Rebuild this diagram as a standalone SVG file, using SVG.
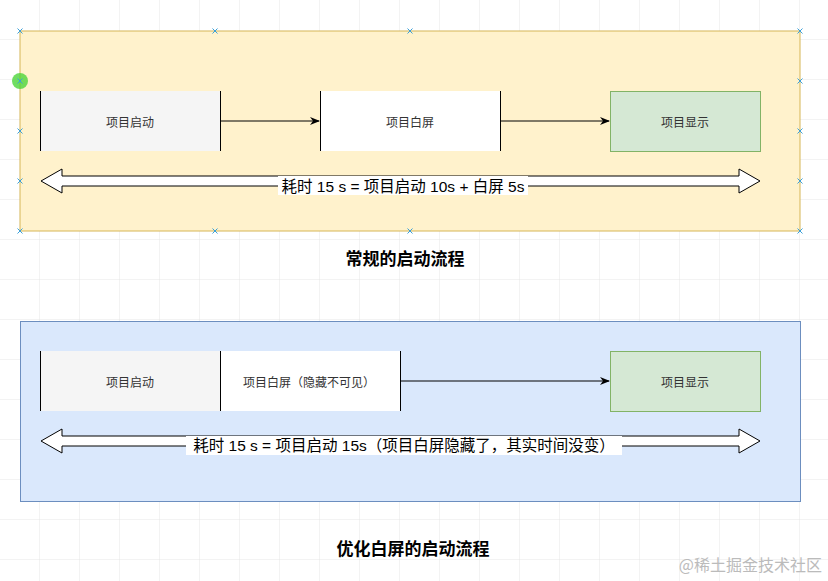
<svg xmlns="http://www.w3.org/2000/svg" width="828" height="581" viewBox="0 0 828 581">
<defs>
<pattern id="grid" width="40" height="40" patternUnits="userSpaceOnUse"><path d="M40 0V40M0 40H40" fill="none" stroke="#e6e6e6" stroke-width="1"/></pattern>
<marker id="arr" markerWidth="10" markerHeight="10" refX="9" refY="5" orient="auto" markerUnits="userSpaceOnUse"><path d="M0,1 L10,5 L0,9 L3,5 Z" fill="#000"/></marker>
<path id="x" d="M-2.5,-2.5L2.5,2.5M-2.5,2.5L2.5,-2.5" stroke="#3ba0d8" stroke-width="1"/>
</defs>
<style>
.t{font-family:"Noto Sans CJK SC","Liberation Sans",sans-serif;font-size:12px;fill:#333;text-anchor:middle;dominant-baseline:central}
.big{font-family:"Liberation Sans","Noto Sans CJK SC",sans-serif;font-size:15.5px;fill:#000;text-anchor:middle;dominant-baseline:central}
.h{font-family:"Noto Sans CJK SC",sans-serif;font-size:17px;font-weight:bold;fill:#000;text-anchor:middle;dominant-baseline:central}
.side{stroke:#000;stroke-width:1}
.dbl{fill:#fff;stroke:#000;stroke-width:1}
</style>
<rect width="828" height="581" fill="#fff"/>
<rect width="828" height="581" fill="url(#grid)"/>
<g id="group1">
<rect x="20" y="31" width="780" height="200" fill="#fff2cc" stroke="#d6b656"/>
<g fill="none"><use href="#x" x="20" y="31"/><use href="#x" x="215" y="31"/><use href="#x" x="410" y="31"/><use href="#x" x="800" y="31"/><use href="#x" x="20" y="131"/><use href="#x" x="20" y="181"/><use href="#x" x="800" y="81"/><use href="#x" x="800" y="131"/><use href="#x" x="800" y="181"/><use href="#x" x="20" y="231"/><use href="#x" x="215" y="231"/><use href="#x" x="410" y="231"/><use href="#x" x="800" y="231"/></g>
<circle cx="20" cy="81" r="8" fill="#4cd43a" opacity="0.8"/><use href="#x" x="20" y="81"/>
</g>
<g id="n1"><rect x="40" y="91" width="180" height="60" fill="#f5f5f5"/><path class="side" d="M40.5 91V151M220.5 91V151" stroke="#666"/><text class="t" x="130" y="121">项目启动</text></g>
<g id="n2"><rect x="320" y="91" width="180" height="60" fill="#fff"/><path class="side" d="M320.5 91V151M500.5 91V151"/><text class="t" x="410" y="121">项目白屏</text></g>
<g id="n3"><rect x="610.5" y="91.5" width="150" height="60" fill="#d5e8d4" stroke="#82b366"/><text class="t" x="685" y="121">项目显示</text></g>
<g id="dbl1"><path class="dbl" d="M41,181 L62,169 L62,176 L739,176 L739,169 L760,181 L739,193 L739,186 L62,186 L62,193 Z"/><rect x="278" y="176" width="250" height="19" fill="#fff"/><text class="big" x="403" y="186">耗时 15 s = 项目启动 10s + 白屏 5s</text></g>
<text class="h" x="405" y="257">常规的启动流程</text>
<g id="group2"><rect x="20.5" y="321.5" width="780" height="180" fill="#dae8fc" stroke="#6c8ebf"/></g>
<g id="m1"><rect x="40" y="351" width="180" height="60" fill="#f5f5f5"/><path class="side" d="M40.5 351V411M220.5 351V411"/><text class="t" x="130" y="381">项目启动</text></g>
<g id="m2"><rect x="221" y="351" width="180" height="60" fill="#fff"/><path class="side" d="M400.5 351V411"/><text class="t" x="309" y="381">项目白屏（隐藏不可见）</text></g>
<g id="m3"><rect x="610.5" y="351.5" width="150" height="60" fill="#d5e8d4" stroke="#82b366"/><text class="t" x="685" y="381">项目显示</text></g>
<g id="dbl2"><path class="dbl" d="M41,441 L62,429 L62,436 L739,436 L739,429 L760,441 L739,453 L739,446 L62,446 L62,453 Z"/><rect x="186" y="436" width="436" height="19" fill="#fff"/><text class="big" x="404" y="445">耗时 15 s = 项目启动 15s（项目白屏隐藏了，其实时间没变）</text></g>
<text class="h" x="413" y="547">优化白屏的启动流程</text>
<g id="connectors" fill="none" stroke="#000">
<path d="M220 121H319" marker-end="url(#arr)"/>
<path d="M500 121H609" marker-end="url(#arr)"/>
<path d="M400 381H609" marker-end="url(#arr)"/>
</g>
<text x="822" y="571" font-family="Noto Sans CJK SC,sans-serif" font-size="16" fill="#bbb" text-anchor="end">@稀土掘金技术社区</text>
</svg>
